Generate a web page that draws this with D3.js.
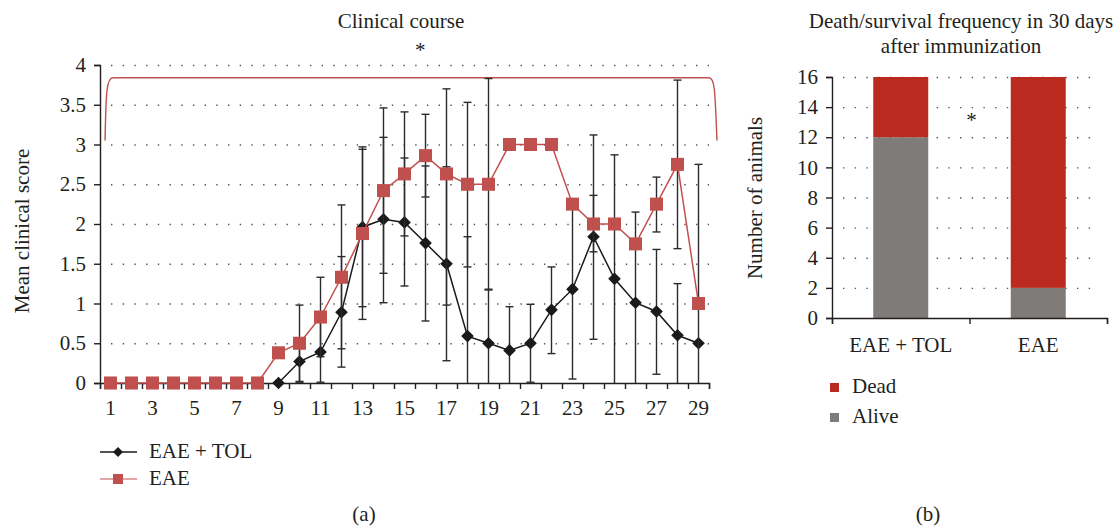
<!DOCTYPE html>
<html>
<head>
<meta charset="utf-8">
<script src="https://cdn.jsdelivr.net/npm/d3@7"></script>
<style>
body { margin: 0; background: #fff; }
svg text { font-family: "Liberation Serif", "DejaVu Serif", serif !important; fill: #231f20; }
</style>
</head>
<body>
<div id="chart"></div>
<script>
// days after immunization
const days = [1,2,3,4,5,6,7,8,9,10,11,12,13,14,15,16,17,18,19,20,21,22,23,24,25,26,27,28,29]
const dayLabels = [1,3,5,7,9,11,13,15,17,19,21,23,25,27,29]
const scoreTicks = [0,0.5,1,1.5,2,2.5,3,3.5,4]

// mean clinical score, EAE + TOL
const eaeTol = [null,null,null,null,null,null,null,null,0,0.27,0.39,0.89,1.96,2.06,2.02,1.76,1.5,0.59,0.5,0.41,0.5,0.92,1.18,1.84,1.31,1.01,0.9,0.6,0.5]
const eaeTolLo = [null,null,null,null,null,null,null,null,null,0.01,0.01,0.2,0.96,1.01,1.22,0.78,0.28,0,0,0,0.01,0.37,0.05,0.55,0,0,0.11,0,null]
const eaeTolHi = [null,null,null,null,null,null,null,null,null,0.53,0.77,1.59,2.97,3.09,2.83,2.73,2.72,1.84,1.18,0.96,0.99,1.46,2.31,3.12,2.87,2.15,1.68,1.25,null]

// mean clinical score, EAE
const eae = [0,0,0,0,0,0,0,0,0.38,0.5,0.83,1.33,1.88,2.42,2.63,2.86,2.63,2.5,2.5,3,3,3,2.25,2,2,1.75,2.25,2.75,1]
const eaeLo = [null,null,null,null,null,null,null,null,null,0.02,0.33,0.43,0.8,1.38,1.85,2.34,0.98,1.46,1.17,null,null,null,null,1.65,null,null,1.9,1.69,0]
const eaeHi = [null,null,null,null,null,null,null,null,null,0.98,1.33,2.24,2.94,3.46,3.41,3.38,3.7,3.53,3.83,null,null,null,null,2.36,null,null,2.59,3.81,2.75]

// death / survival within 30 days
const groups = ["EAE + TOL", "EAE"]
const alive = [12, 2]
const dead = [4, 14]
const countTicks = [0,2,4,6,8,10,12,14,16]

const red = "#c0504d"
const ink = "#231f20"
const serif = "'Liberation Serif', 'DejaVu Serif', serif"
const fs = "21px"

const svg = d3.select("#chart").append("svg")
    .attr("width", 1117)
    .attr("height", 526)
    .attr("font-family", serif)

// ---------- (a) clinical course ----------
const x = d3.scaleBand().domain(days).range([100, 709])
const xPos = d3.scaleLinear().domain([0.5, 29.5]).range([100, 709])
const y = d3.scaleLinear().domain([0, 4]).range([383, 65])

const gridA = svg.append("g")
    .attr("transform", "translate(111,0)")
    .call(d3.axisRight(y).tickValues(scoreTicks.slice(1)).tickSize(598).tickFormat(""))
gridA.select(".domain").remove()
gridA.selectAll("line")
    .attr("stroke", "#555")
    .attr("stroke-width", 1.4)
    .attr("stroke-dasharray", "1.4,10.3")

svg.append("g")
    .attr("transform", "translate(0,383)")
    .call(d3.axisBottom(xPos).tickValues(days.map(d => d - 0.5).concat([29.5])).tickSize(6).tickFormat(""))
    .call(g => g.selectAll("line, path").attr("stroke", ink).attr("stroke-width", 1.4))

svg.append("g")
    .attr("transform", "translate(0,383)")
    .call(d3.axisBottom(x).tickValues(dayLabels).tickSize(0).tickPadding(17))
    .call(g => g.select(".domain").remove())
    .call(g => g.attr("font-family", serif).selectAll("text").style("font-size", fs).attr("fill", ink))

svg.append("g")
    .attr("transform", "translate(100,0)")
    .call(d3.axisLeft(y).tickValues(scoreTicks).tickSize(6).tickPadding(8).tickFormat(d3.format("~g")))
    .call(g => g.selectAll("line, path").attr("stroke", ink).attr("stroke-width", 1.4))
    .call(g => g.attr("font-family", serif).selectAll("text").style("font-size", fs).attr("fill", ink))

svg.append("text")
    .attr("transform", "translate(29,231) rotate(-90)")
    .attr("text-anchor", "middle")
    .style("font-size", fs)
    .text("Mean clinical score")

svg.append("text")
    .attr("x", 401).attr("y", 28)
    .attr("text-anchor", "middle")
    .style("font-size", fs)
    .text("Clinical course")

// significance bracket over the whole course
const bracket = {from: 0.74, to: 29.88, top: 3.84, base: 3.05}
const bp = d3.path()
bp.moveTo(xPos(bracket.from), y(bracket.base))
bp.bezierCurveTo(xPos(bracket.from) + 1, y(bracket.top) + 18, xPos(bracket.from) + 1, y(bracket.top), xPos(bracket.from) + 8, y(bracket.top))
bp.lineTo(xPos(bracket.to) - 8, y(bracket.top))
bp.bezierCurveTo(xPos(bracket.to) - 2, y(bracket.top), xPos(bracket.to) - 2, y(bracket.top) + 14, xPos(bracket.to), y(bracket.base))
svg.append("path")
    .attr("d", bp.toString())
    .attr("fill", "none")
    .attr("stroke", red)
    .attr("stroke-width", 1.4)

svg.append("text")
    .attr("x", xPos(15.75)).attr("y", 57)
    .attr("text-anchor", "middle")
    .style("font-size", fs)
    .attr("fill", "#444")
    .text("*")

const series = [
    {name: "EAE + TOL", vals: eaeTol, lo: eaeTolLo, hi: eaeTolHi, color: "#1a1a1a"},
    {name: "EAE", vals: eae, lo: eaeLo, hi: eaeHi, color: red}
]

const valueLine = d3.line()
    .defined(d => d.v != null)
    .x(d => xPos(d.day))
    .y(d => y(d.v))

series.forEach(function(s, i){
    const pts = days.map((d, j) => ({day: d, v: s.vals[j], lo: s.lo[j], hi: s.hi[j]}))
    const errs = pts.filter(p => p.hi != null)
    const g = svg.append("g")

    g.selectAll(".err")
        .data(errs).enter()
        .append("line")
        .attr("x1", d => xPos(d.day)).attr("x2", d => xPos(d.day))
        .attr("y1", d => y(d.lo)).attr("y2", d => y(d.hi))
        .attr("stroke", "#2b2b2b")
        .attr("stroke-width", 1.4)
    g.selectAll(".capHi")
        .data(errs).enter()
        .append("line")
        .attr("x1", d => xPos(d.day) - 4).attr("x2", d => xPos(d.day) + 4)
        .attr("y1", d => y(d.hi)).attr("y2", d => y(d.hi))
        .attr("stroke", "#2b2b2b")
        .attr("stroke-width", 1.4)
    g.selectAll(".capLo")
        .data(errs.filter(d => d.lo > 0)).enter()
        .append("line")
        .attr("x1", d => xPos(d.day) - 4).attr("x2", d => xPos(d.day) + 4)
        .attr("y1", d => y(d.lo)).attr("y2", d => y(d.lo))
        .attr("stroke", "#2b2b2b")
        .attr("stroke-width", 1.4)

    g.append("path")
        .datum(pts)
        .attr("fill", "none")
        .attr("stroke", s.color)
        .attr("stroke-width", 1.5)
        .attr("d", valueLine)

    g.selectAll(".mark")
        .data(pts.filter(p => p.v != null)).enter()
        .append("path")
        .attr("transform", d => "translate(" + xPos(d.day) + "," + y(d.v) + ")" + (i == 0 ? " rotate(45)" : ""))
        .attr("d", d3.symbol(d3.symbolSquare, i == 0 ? 80 : 170))
        .attr("fill", s.color)
})

// legend (a)
const legA = svg.append("g")
series.forEach(function(s, i){
    const ly = 452 + i * 27
    legA.append("line")
        .attr("x1", 100).attr("x2", 137)
        .attr("y1", ly).attr("y2", ly)
        .attr("stroke", i == 0 ? "#1a1a1a" : "#d58987")
        .attr("stroke-width", 1.5)
    legA.append("path")
        .attr("transform", "translate(118," + ly + ")" + (i == 0 ? " rotate(45)" : ""))
        .attr("d", d3.symbol(d3.symbolSquare, i == 0 ? 50 : 100))
        .attr("fill", i == 0 ? "#1a1a1a" : red)
    legA.append("text")
        .attr("x", 149).attr("y", ly + 6)
        .style("font-size", fs)
        .text(s.name)
})

svg.append("text")
    .attr("x", 364).attr("y", 521)
    .attr("text-anchor", "middle")
    .style("font-size", fs)
    .text("(a)")

// ---------- (b) death / survival ----------
const xb = d3.scaleBand().domain(groups).range([832, 1107]).paddingInner(0.6).paddingOuter(0.3)
const xbEdge = d3.scaleLinear().domain([0, 2]).range([832, 1107])
const yb = d3.scaleLinear().domain([0, 16]).range([318, 77])

const gridB = svg.append("g")
    .attr("transform", "translate(843,0)")
    .call(d3.axisRight(yb).tickValues(countTicks.slice(1)).tickSize(257).tickFormat(""))
gridB.select(".domain").remove()
gridB.selectAll("line")
    .attr("stroke", "#555")
    .attr("stroke-width", 1.4)
    .attr("stroke-dasharray", "1.4,10.3")

const rows = groups.map((gname, i) => ({group: gname, alive: alive[i], dead: dead[i]}))
const stacked = d3.stack().keys(["alive", "dead"])(rows)
const barColor = {alive: "#7f7b78", dead: "#bb2a1f"}

svg.append("g").selectAll("g")
    .data(stacked).enter()
    .append("g")
    .attr("fill", d => barColor[d.key])
    .selectAll("rect")
    .data(d => d).enter()
    .append("rect")
    .attr("x", d => xb(d.data.group))
    .attr("width", xb.bandwidth())
    .attr("y", d => yb(d[1]))
    .attr("height", d => yb(d[0]) - yb(d[1]))

svg.append("g")
    .attr("transform", "translate(0,318)")
    .call(d3.axisBottom(xbEdge).tickValues([0, 1, 2]).tickSize(6).tickFormat(""))
    .call(g => g.selectAll("line, path").attr("stroke", ink).attr("stroke-width", 1.4))

svg.append("g")
    .attr("transform", "translate(0,318)")
    .call(d3.axisBottom(xb).tickSize(0).tickPadding(19))
    .call(g => g.select(".domain").remove())
    .call(g => g.attr("font-family", serif).selectAll("text").style("font-size", fs).attr("fill", ink))

svg.append("g")
    .attr("transform", "translate(832,0)")
    .call(d3.axisLeft(yb).tickValues(countTicks).tickSize(6).tickPadding(8))
    .call(g => g.selectAll("line, path").attr("stroke", ink).attr("stroke-width", 1.4))
    .call(g => g.attr("font-family", serif).selectAll("text").style("font-size", fs).attr("fill", ink))

svg.append("text")
    .attr("transform", "translate(762,198) rotate(-90)")
    .attr("text-anchor", "middle")
    .style("font-size", fs)
    .text("Number of animals")

svg.append("text")
    .attr("x", xbEdge(1) + 2).attr("y", yb(12.7))
    .attr("text-anchor", "middle")
    .style("font-size", fs)
    .attr("fill", "#444")
    .text("*")

const titleB = svg.append("text")
    .attr("text-anchor", "middle")
    .style("font-size", fs)
titleB.append("tspan").attr("x", 961).attr("y", 28).text("Death/survival frequency in 30 days")
titleB.append("tspan").attr("x", 961).attr("y", 53).text("after immunization")

// legend (b)
const legB = [{key: "dead", label: "Dead"}, {key: "alive", label: "Alive"}]
legB.forEach(function(l, i){
    svg.append("rect")
        .attr("x", 830).attr("y", 383 + i * 30)
        .attr("width", 9).attr("height", 9)
        .attr("fill", barColor[l.key])
    svg.append("text")
        .attr("x", 852).attr("y", 393 + i * 30)
        .style("font-size", fs)
        .text(l.label)
})

svg.append("text")
    .attr("x", 928).attr("y", 521)
    .attr("text-anchor", "middle")
    .style("font-size", fs)
    .text("(b)")
</script>
</body>
</html>
